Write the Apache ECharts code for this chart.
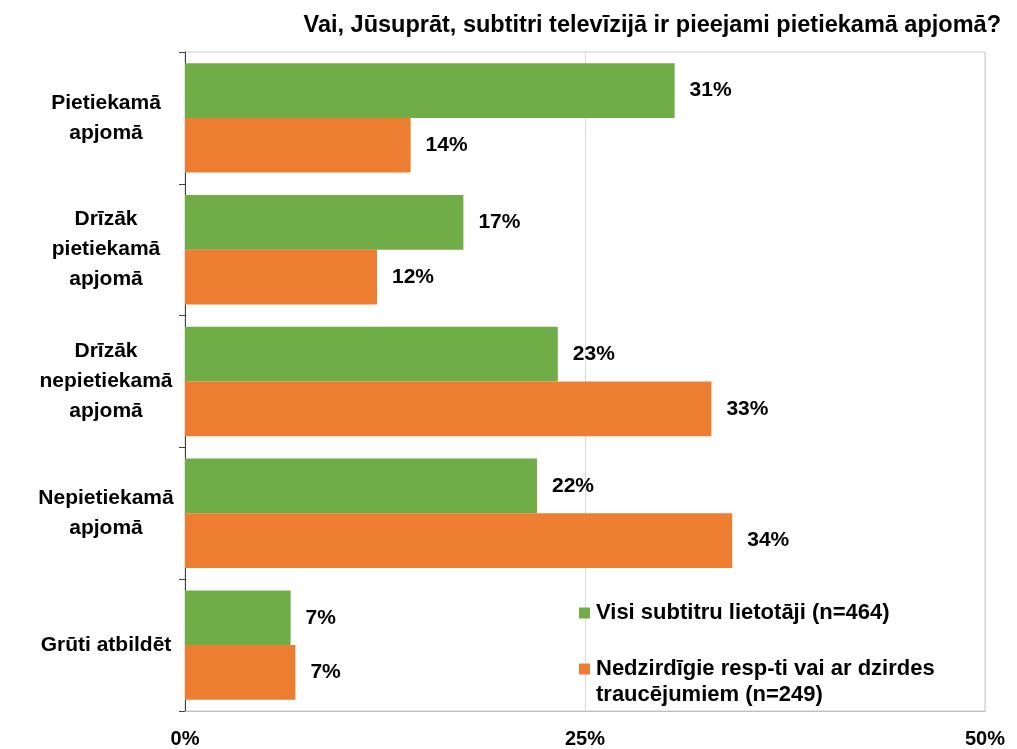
<!DOCTYPE html>
<html>
<head>
<meta charset="utf-8">
<script src="https://cdn.jsdelivr.net/npm/echarts@6/dist/echarts.min.js"></script>
<style>
  html, body { margin: 0; padding: 0; background: #fff; }
  #chart { width: 1017px; height: 749px; }
</style>
</head>
<body>
<div id="chart"></div>
<script>
// kategorijas (no augšas uz leju)
const categories = [
  'Pietiekamā\napjomā',
  'Drīzāk\npietiekamā\napjomā',
  'Drīzāk\nnepietiekamā\napjomā',
  'Nepietiekamā\napjomā',
  'Grūti atbildēt'
]

const seriesNames = [
  'Visi subtitru lietotāji (n=464)',
  'Nedzirdīgie resp-ti vai ar dzirdes\ntraucējumiem (n=249)'
]

// vērtības (%)
const allUsers = [30.6, 17.4, 23.3, 22.0, 6.6]
const deafUsers = [14.1, 12.0, 32.9, 34.2, 6.9]

const xTicks = [0, 25, 50]

const FONT = "'Liberation Sans', Arial, sans-serif"

// leģendas marķieri: kvadrāts + neredzami punkti, lai kvadrāts būtu pie pirmās rindas
const dot = y => 'M0,' + y + 'h0.01v0.01h-0.01z '
const iconMid = 'path://' + dot(0) + 'M0,20.5h11v11h-11z ' + dot(51.99)
const iconTop = 'path://' + dot(0) + 'M0,7.5h11v11h-11z ' + dot(51.99)

const chart = echarts.init(document.getElementById('chart'))

const labelStyle = {
  show: true,
  position: 'right',
  distance: 15,
  fontFamily: FONT,
  fontWeight: 'bold',
  fontSize: 21,
  color: '#000',
  formatter: p => Math.round(p.value) + '%'
}

chart.setOption({
  textStyle: { fontFamily: FONT },
  title: {
    text: 'Vai, Jūsuprāt, subtitri televīzijā ir pieejami pietiekamā apjomā?',
    right: 11,
    top: 9,
    textStyle: { fontFamily: FONT, fontWeight: 'bold', fontSize: 23.5, color: '#000' }
  },
  legend: {
    orient: 'vertical',
    left: 574,
    top: 582,
    itemWidth: 11,
    itemHeight: 52,
    itemGap: 17,
    textStyle: { fontFamily: FONT, fontWeight: 'bold', fontSize: 22, color: '#000', lineHeight: 26, padding: [0, 0, 0, 1] },
    data: [
      { name: seriesNames[0], icon: iconMid },
      { name: seriesNames[1], icon: iconTop }
    ]
  },
  grid: {
    left: 185, right: 32, top: 52, bottom: 37,
    show: true, borderColor: '#c8c8c8', borderWidth: 1
  },
  xAxis: {
    type: 'value',
    min: 0,
    max: 50,
    interval: 25,
    axisLine: { show: true, lineStyle: { color: '#bfbfbf' } },
    axisTick: { show: false },
    splitLine: { show: true, lineStyle: { color: '#d9d9d9' } },
    axisLabel: {
      fontFamily: FONT, fontWeight: 'bold', fontSize: 20, color: '#000', margin: 18,
      formatter: v => xTicks.includes(v) ? v + '%' : ''
    }
  },
  yAxis: {
    type: 'category',
    inverse: true,
    data: categories,
    axisLine: { show: true, lineStyle: { color: '#404040', width: 1 } },
    axisTick: { show: true, length: 6, lineStyle: { color: '#404040' } },
    axisLabel: {
      fontFamily: FONT, fontWeight: 'bold', fontSize: 21, color: '#000',
      align: 'center', margin: 79, lineHeight: 30
    }
  },
  series: [
    {
      name: seriesNames[0],
      type: 'bar',
      data: allUsers,
      barGap: '0%',
      barCategoryGap: '17%',
      itemStyle: { color: '#70AD47' },
      label: labelStyle
    },
    {
      name: seriesNames[1],
      type: 'bar',
      data: deafUsers,
      itemStyle: { color: '#ED7D31' },
      label: labelStyle
    }
  ]
})
</script>
</body>
</html>
